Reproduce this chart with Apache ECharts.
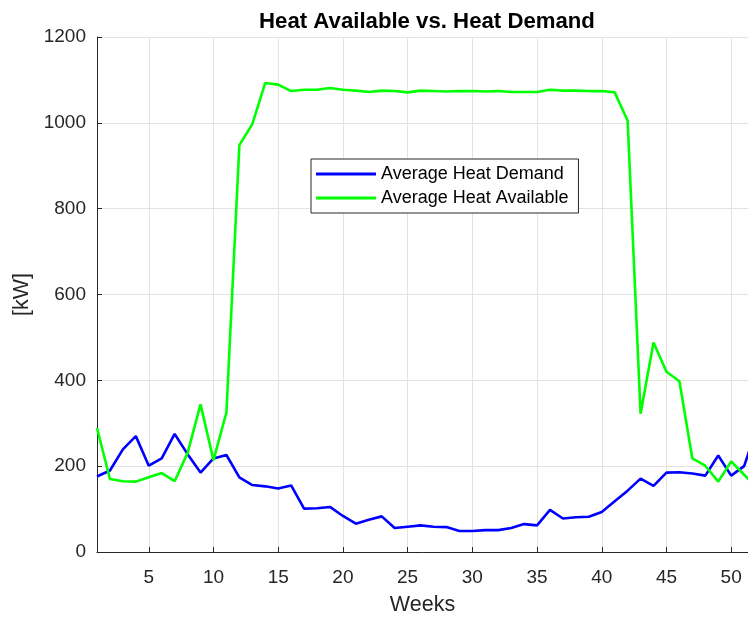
<!DOCTYPE html>
<html>
<head>
<meta charset="utf-8">
<script src="https://cdn.jsdelivr.net/npm/echarts@6/dist/echarts.min.js"></script>
<style>
  html, body { margin: 0; padding: 0; background: #fff; overflow: hidden; }
  #chart { width: 748px; height: 621px; }
</style>
</head>
<body>
<div id="chart"></div>
<script>
// Weekly averages, week 1 to 52
const weeks = [1,2,3,4,5,6,7,8,9,10,11,12,13,14,15,16,17,18,19,20,21,22,23,24,25,26,
               27,28,29,30,31,32,33,34,35,36,37,38,39,40,41,42,43,44,45,46,47,48,49,50,51,52];

const heatDemand = [176,190,239,270,201,218,275,228,185,218,226,174,156,153,148,155,101,102,105,84,
                    66,75,83,56,59,62,59,58,49,49,51,51,56,65,62,98,78,81,82,93,
                    118,143,171,154,185,186,183,178,225,178,200,290];

const heatAvailable = [289,170,165,164,174,184,165,231,344,214,325,948,997,1093,1089,1074,1077,1077,1081,1077,
                       1075,1072,1075,1074,1071,1075,1074,1073,1074,1074,1073,1074,1072,1072,1072,1077,1075,1075,1074,1074,
                       1071,1005,322,488,420,398,218,201,164,211,180,150];

const weekTicks = [5,10,15,20,25,30,35,40,45,50];
const kwTicks = [0,200,400,600,800,1000,1200];

// visible week range; the last week runs just past the right edge of the frame
const weekRange = [1, 51.3];

const seriesNames = ['Average Heat Demand', 'Average Heat Available'];

const FONT = '"Liberation Sans", Arial, sans-serif';
const AXIS_COLOR = '#262626';
const GRID_COLOR = '#e3e3e3';

const chart = echarts.init(document.getElementById('chart'), null, { renderer: 'canvas' });

chart.setOption({
  animation: false,
  backgroundColor: '#ffffff',
  textStyle: { fontFamily: FONT },
  title: {
    text: 'Heat Available vs. Heat Demand',
    left: 427,
    textAlign: 'center',
    top: 11,
    padding: 0,
    textStyle: { fontFamily: FONT, fontSize: 22.2, fontWeight: 'bold', color: '#000' }
  },
  legend: {
    orient: 'vertical',
    left: 311,
    top: 159,
    data: seriesNames,
    icon: 'rect',
    itemWidth: 60,
    itemHeight: 3,
    itemGap: 6,
    padding: [6, 10, 6, 5],
    backgroundColor: '#ffffff',
    borderColor: AXIS_COLOR,
    borderWidth: 1,
    borderRadius: 0,
    textStyle: { fontFamily: FONT, fontSize: 18, color: '#000' }
  },
  grid: {
    left: 97,
    right: 0,
    top: 37,
    bottom: 64,
    containLabel: false
  },
  xAxis: {
    type: 'value',
    min: weekRange[0],
    max: weekRange[1],
    name: 'Weeks',
    nameLocation: 'middle',
    nameGap: 42,
    nameTextStyle: { fontFamily: FONT, fontSize: 21.5, color: AXIS_COLOR },
    axisLine: { show: true, onZero: false, lineStyle: { color: AXIS_COLOR, width: 1 } },
    axisTick: { show: true, inside: true, length: 5, customValues: weekTicks, lineStyle: { color: AXIS_COLOR } },
    axisLabel: { customValues: weekTicks, margin: 16, fontFamily: FONT, fontSize: 19, color: AXIS_COLOR },
    splitLine: { show: true, lineStyle: { color: GRID_COLOR, width: 1 } }
  },
  yAxis: {
    type: 'value',
    min: kwTicks[0],
    max: kwTicks[kwTicks.length - 1],
    interval: 200,
    name: '[kW]',
    nameLocation: 'middle',
    nameGap: 52,
    nameTextStyle: { fontFamily: FONT, fontSize: 21.5, color: AXIS_COLOR },
    axisLine: { show: true, lineStyle: { color: AXIS_COLOR, width: 1 } },
    axisTick: { show: true, inside: true, length: 5, lineStyle: { color: AXIS_COLOR } },
    axisLabel: { margin: 11, fontFamily: FONT, fontSize: 19, color: AXIS_COLOR,
                 formatter: (v) => String(v) },
    splitLine: { show: true, lineStyle: { color: GRID_COLOR, width: 1 } }
  },
  series: [
    {
      name: seriesNames[0],
      type: 'line',
      data: weeks.map((w, i) => [w, heatDemand[i]]),
      showSymbol: false,
      symbol: 'none',
      clip: true,
      lineStyle: { color: '#0000ff', width: 2.6 },
      itemStyle: { color: '#0000ff' },
      z: 3
    },
    {
      name: seriesNames[1],
      type: 'line',
      data: weeks.map((w, i) => [w, heatAvailable[i]]),
      showSymbol: false,
      symbol: 'none',
      clip: true,
      lineStyle: { color: '#00ff00', width: 2.6 },
      itemStyle: { color: '#00ff00' },
      z: 4
    }
  ]
});
</script>
</body>
</html>
